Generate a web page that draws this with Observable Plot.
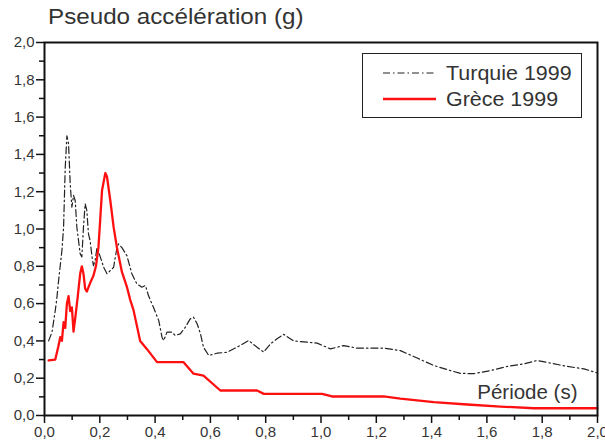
<!DOCTYPE html>
<html><head><meta charset="utf-8">
<script src="https://cdn.jsdelivr.net/npm/d3@7"></script>
<script src="https://cdn.jsdelivr.net/npm/@observablehq/plot@0.6"></script>
<style>
body{margin:0;background:#fff;font-family:"Liberation Sans",Arial,sans-serif;}
#wrap{position:relative;width:605px;height:447px;overflow:hidden;}
#title{position:absolute;left:48px;top:4px;font-size:22px;color:#333;white-space:nowrap;transform:scaleX(1.1);transform-origin:left top;}
#chart{position:absolute;left:0;top:34px;}
#legend{position:absolute;left:362px;top:53px;width:220px;height:65px;border:1.5px solid #222;box-sizing:border-box;background:#fff;}
.row{position:absolute;left:20px;height:24px;display:flex;align-items:center;white-space:nowrap;}
.row span{font-size:19.5px;color:#333;margin-left:9px;display:inline-block;transform:scaleX(1.1);transform-origin:left center;}
</style></head>
<body>
<div id="wrap">
  <div id="title">Pseudo accélération (g)</div>
  <div id="chart"></div>
  <div id="legend"></div>
</div>
<script>
// Data
const turquieP = [0.015,0.027,0.039,0.045,0.051,0.063,0.069,0.075,0.081,0.087,0.093,0.099,0.105,0.111,0.117,0.129,0.135,0.141,0.147,0.153,0.159,0.165,0.172,0.177,0.183,0.19,0.202,0.214,0.226,0.238,0.25,0.262,0.268,0.28,0.298,0.316,0.334,0.352,0.365,0.376,0.394,0.413,0.425,0.431,0.443,0.461,0.473,0.491,0.509,0.527,0.539,0.552,0.564,0.575,0.594,0.624,0.66,0.696,0.738,0.769,0.793,0.817,0.841,0.865,0.901,0.986,1.034,1.082,1.13,1.227,1.287,1.348,1.408,1.468,1.505,1.553,1.613,1.674,1.734,1.782,1.83,1.891,1.951,2.0];
const turquieV = [0.40,0.447,0.563,0.634,0.724,0.885,1.01,1.33,1.50,1.457,1.24,1.117,1.18,1.153,1.01,0.867,0.85,1.01,1.135,1.10,0.974,0.938,0.849,0.804,0.83,0.90,0.849,0.795,0.76,0.777,0.795,0.90,0.92,0.90,0.857,0.76,0.706,0.688,0.697,0.643,0.58,0.51,0.42,0.402,0.447,0.447,0.429,0.438,0.473,0.518,0.527,0.492,0.438,0.366,0.322,0.334,0.339,0.366,0.402,0.366,0.34,0.384,0.411,0.435,0.40,0.388,0.357,0.375,0.361,0.361,0.348,0.308,0.268,0.241,0.226,0.224,0.241,0.263,0.277,0.295,0.281,0.263,0.25,0.228];
const greceP = [0.015,0.039,0.05,0.057,0.063,0.069,0.075,0.081,0.087,0.093,0.099,0.105,0.111,0.12,0.129,0.135,0.141,0.147,0.153,0.165,0.177,0.186,0.195,0.202,0.208,0.22,0.226,0.238,0.25,0.262,0.28,0.298,0.31,0.322,0.346,0.37,0.407,0.503,0.539,0.575,0.636,0.769,0.793,1.004,1.04,1.227,1.287,1.408,1.529,1.649,1.77,2.0];
const greceV = [0.295,0.30,0.37,0.42,0.40,0.50,0.47,0.60,0.64,0.56,0.58,0.45,0.52,0.635,0.76,0.80,0.76,0.68,0.665,0.71,0.75,0.80,0.90,1.063,1.206,1.30,1.28,1.153,1.01,0.90,0.77,0.69,0.62,0.565,0.40,0.357,0.286,0.286,0.224,0.214,0.134,0.134,0.116,0.116,0.102,0.102,0.09,0.072,0.059,0.048,0.039,0.039];
const seriesNames = ["Turquie 1999", "Grèce 1999"];
const majorTicks = [0,0.2,0.4,0.6,0.8,1.0,1.2,1.4,1.6,1.8,2.0];
const minorTicks = [0.1,0.3,0.5,0.7,0.9,1.1,1.3,1.5,1.7,1.9];
const xLabel = "Période (s)";

const turquie = turquieP.map((p,i) => ({p, v: turquieV[i]}));
const grece = greceP.map((p,i) => ({p, v: greceV[i]}));
const fmt = d => d3.format(".1f")(d).replace(".", ",");
const txt = "#353535";
const dash = "7,3,1.5,3";

const chart = Plot.plot({
  width: 605, height: 413,
  marginTop: 8, marginBottom: 32, marginLeft: 44, marginRight: 8,
  style: {fontFamily: "'Liberation Sans', Arial, sans-serif", background: "white", color: txt},
  x: {domain: [0, 2]},
  y: {domain: [0, 2]},
  marks: [
    Plot.axisX(majorTicks, {tickSize: 8, tickPadding: 3, tickFormat: fmt, stroke: "#111", strokeWidth: 1.5, fill: txt, fontSize: 15, label: null}),
    Plot.axisX(minorTicks, {tickSize: 5, fill: "none", stroke: "#111", strokeWidth: 1.5, label: null}),
    Plot.axisY(majorTicks, {tickSize: 8, tickPadding: 2, tickFormat: fmt, stroke: "#111", strokeWidth: 1.5, fill: txt, fontSize: 15, label: null}),
    Plot.axisY(minorTicks, {tickSize: 5, fill: "none", stroke: "#111", strokeWidth: 1.5, label: null}),
    Plot.line(turquie, {x: "p", y: "v", stroke: "#222", strokeWidth: 1.2, strokeDasharray: dash}),
    Plot.line(grece, {x: "p", y: "v", stroke: "#ff1010", strokeWidth: 2.3}),
    Plot.frame({stroke: "#111", strokeWidth: 2}),
    Plot.text([xLabel], {frameAnchor: "bottom-right", dx: -20, dy: -17, fontSize: 20.5, fill: txt, textAnchor: "end"})
  ]
});
document.getElementById("chart").appendChild(chart);

const legend = document.getElementById("legend");
const styles = [{stroke: "#222", w: 1.2, dash}, {stroke: "#ff1010", w: 2.5, dash: null}];
seriesNames.forEach((name, i) => {
  const row = document.createElement("div");
  row.className = "row";
  row.style.top = (7 + i * 26) + "px";
  const s = styles[i];
  row.innerHTML = `<svg width="54" height="8"><line x1="0" x2="53" y1="4" y2="4" stroke="${s.stroke}" stroke-width="${s.w}" ${s.dash ? `stroke-dasharray="${s.dash}"` : ""}/></svg><span>${name}</span>`;
  legend.appendChild(row);
});
</script>
</body></html>
